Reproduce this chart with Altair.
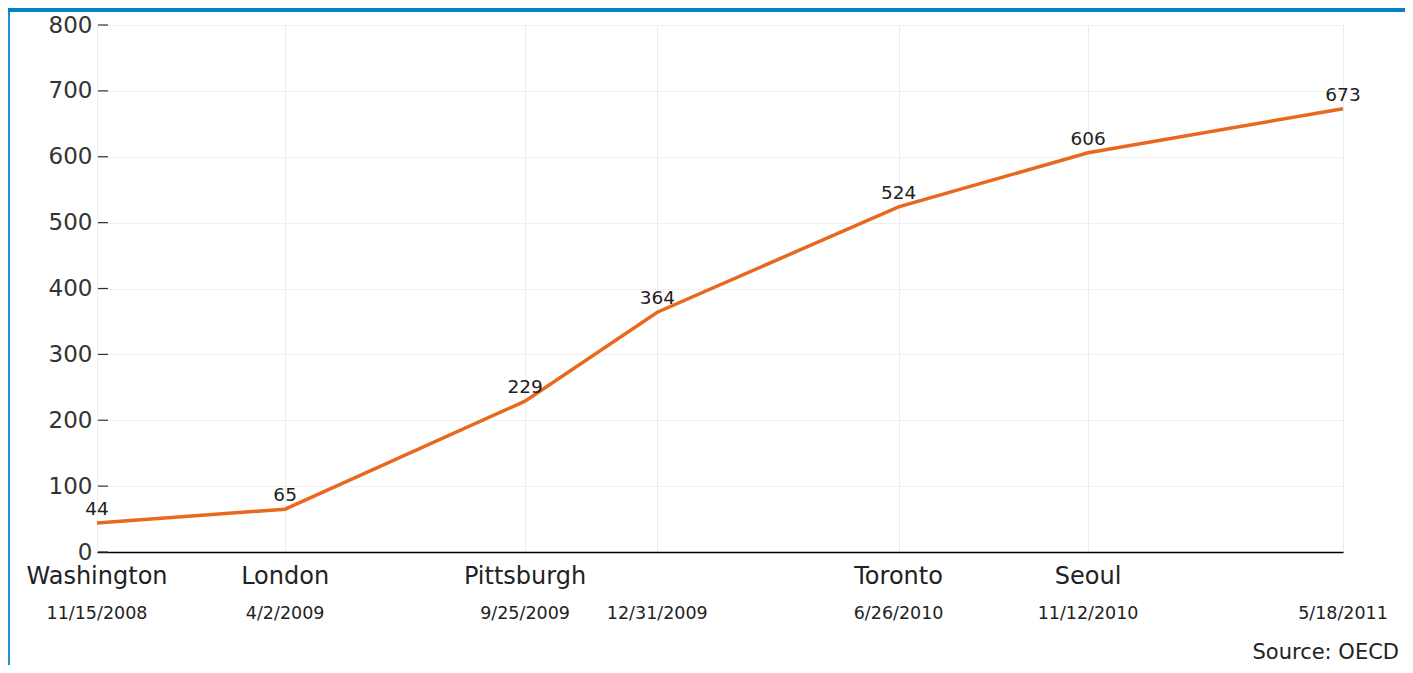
import altair as alt
import pandas as pd

dates = ["2008-11-15", "2009-04-02", "2009-09-25", "2009-12-31", "2010-06-26", "2010-11-12", "2011-05-18"]
date_labels = ["11/15/2008", "4/2/2009", "9/25/2009", "12/31/2009", "6/26/2010", "11/12/2010", "5/18/2011"]
cities = ["Washington", "London", "Pittsburgh", "", "Toronto", "Seoul", ""]
values = [44, 65, 229, 364, 524, 606, 673]
y_ticks = [0, 100, 200, 300, 400, 500, 600, 700, 800]

df = pd.DataFrame({
    "date": [d + "T00:00:00" for d in dates],
    "dlabel": date_labels,
    "city": cities,
    "value": values,
})
ticks_df = pd.DataFrame({"t": y_ticks})

W, H = 1246, 527
FONT = "DejaVu Sans"

xdom = [alt.DateTime(year=2008, month=11, date=15), alt.DateTime(year=2011, month=5, date=18)]
x_enc = alt.X("date:T", scale=alt.Scale(domain=xdom),
              axis=alt.Axis(values=[d + "T00:00:00" for d in dates], labels=False, ticks=False,
                            domain=True, domainColor="#000000", domainWidth=1.5,
                            grid=True, gridColor="#ececec", title=None))
y_scale = alt.Scale(domain=[0, 800], nice=False)

base = alt.Chart(df)

line = base.mark_line(color="#E8691E", strokeWidth=3.5).encode(
    x=x_enc,
    y=alt.Y("value:Q", scale=y_scale,
            axis=alt.Axis(values=y_ticks, domain=False, ticks=False, grid=True, gridColor="#f0f0f0",
                          labelFontSize=23, labelColor="#333333", labelFont=FONT, labelPadding=5,
                          title=None)),
)

labels = base.mark_text(dy=-14, fontSize=18.5, color="#222222", font=FONT).encode(
    x="date:T", y=alt.Y("value:Q", scale=y_scale), text="value:Q"
)

city_text = base.mark_text(fontSize=24, color="#222222", font=FONT, baseline="middle").encode(
    x="date:T", y=alt.value(H + 25), text="city:N"
)
date_text = base.mark_text(fontSize=17.5, color="#222222", font=FONT, baseline="middle").encode(
    x="date:T", y=alt.value(H + 62), text="dlabel:N"
)

yticks = alt.Chart(ticks_df).mark_rule(color="#333333", strokeWidth=1.2).encode(
    y=alt.Y("t:Q", scale=y_scale), x=alt.value(1), x2=alt.value(11)
)

source = alt.Chart(pd.DataFrame({"s": ["Source: OECD"]})).mark_text(
    fontSize=21, color="#222222", font=FONT, align="right", baseline="middle"
).encode(x=alt.value(W + 56), y=alt.value(H + 101), text="s:N")

left_border = alt.Chart(pd.DataFrame({"a": [0]})).mark_rule(color="#1E90D0", strokeWidth=2).encode(
    x=alt.value(-88), y=alt.value(-17), y2=alt.value(H + 113)
)
top_bar = alt.Chart(pd.DataFrame({"a": [0]})).mark_rect(color="#0083C2").encode(
    x=alt.value(-89), x2=alt.value(W + 62), y=alt.value(-17), y2=alt.value(-13)
)

chart = alt.layer(line, labels, city_text, date_text, yticks, source, left_border, top_bar).properties(
    width=W, height=H,
    autosize=alt.AutoSizeParams(type="none"),
    padding={"left": 89, "top": 17, "right": 62, "bottom": 113},
).configure_view(stroke=None).configure(background="white")

chart.save("out.html", embed_options={"renderer": "svg", "actions": False})
